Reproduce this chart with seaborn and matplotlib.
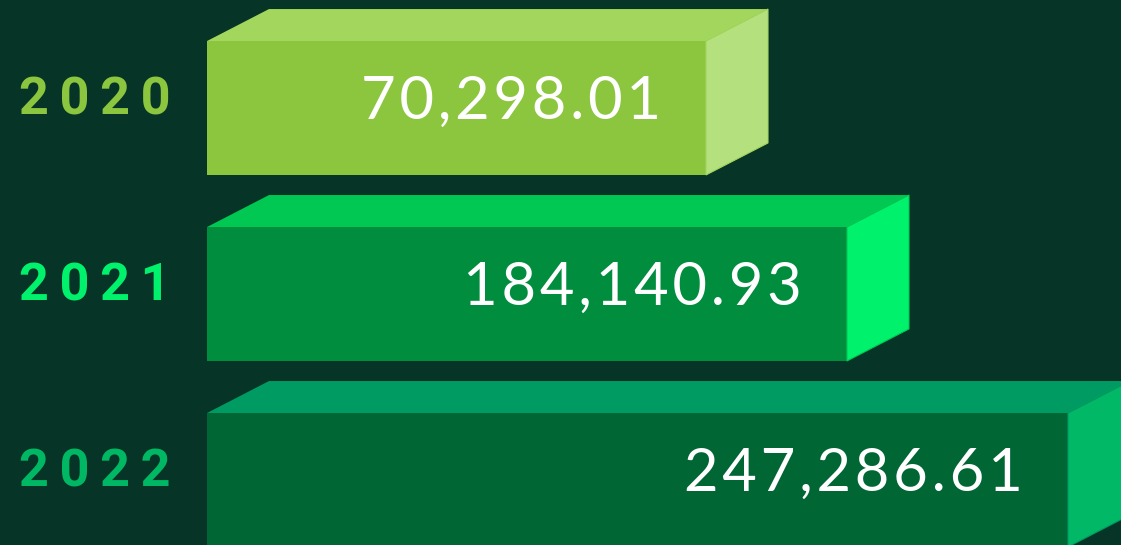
import matplotlib
matplotlib.use("Agg")
import matplotlib.pyplot as plt
import seaborn as sns
import pandas as pd

# ---- data ----
years = ["2020", "2021", "2022"]
values = [70298.01, 184140.93, 247286.61]
# relative bar length as drawn in the infographic (percent of axis)
bar_lengths = [49.9, 64.0, 86.1]

front_colors = ["#8CC63F", "#008D3E", "#006633"]
top_colors = ["#A3D65C", "#00C853", "#009B62"]
side_colors = ["#B5E07E", "#00F26D", "#00B865"]
label_colors = ["#8CC63F", "#00F26D", "#00B864"]
bg = "#063427"

df = pd.DataFrame({"year": years, "length": bar_lengths})

sns.set_theme(style="white")
plt.rcParams["font.family"] = ["Lato", "DejaVu Sans"]

fig = plt.figure(figsize=(11.21, 5.45), dpi=100, facecolor=bg)
ax = fig.add_axes([0, 0, 1, 1])
ax.set_facecolor(bg)

sns.barplot(data=df, x="length", y="year", hue="year", palette=front_colors,
            orient="h", width=0.72, legend=False, ax=ax, saturation=1,
            linewidth=0)

ax.set_xlim(-20.7, 91.4)
ax.set_ylim(2.3495, -0.5806)
ax.set_axis_off()

dx = 6.2      # depth in x (data units)
dy = 0.172    # depth in y (category units)

HAIR = "\u200a"
THIN = "\u2009"

for i, p in enumerate(ax.patches):
    x0 = p.get_x()
    x1 = x0 + p.get_width()
    ytop = p.get_y()
    ybot = ytop + p.get_height()
    # top face
    ax.fill([x0, x0 + dx, x1 + dx, x1], [ytop, ytop - dy, ytop - dy, ytop],
            color=top_colors[i], lw=0, zorder=2)
    # side face
    ax.fill([x1, x1 + dx, x1 + dx, x1], [ytop, ytop - dy, ybot - dy, ybot],
            color=side_colors[i], lw=0.8, edgecolor=top_colors[i], zorder=2)
    yc = (ytop + ybot) / 2
    ax.text(x1 - 4.5, yc - 0.035, HAIR.join(f"{values[i]:,.2f}"), ha="right",
            va="center", color="white", fontsize=43,
            fontfamily=["Lato", "DejaVu Sans"], zorder=3)
    ax.text(-18.8, yc - 0.04, THIN.join(years[i]), ha="left", va="center",
            color=label_colors[i], fontsize=37.5, fontweight="bold",
            fontfamily=["Roboto", "DejaVu Sans"], zorder=3)

fig.savefig("out.png", dpi=100, facecolor=bg)
